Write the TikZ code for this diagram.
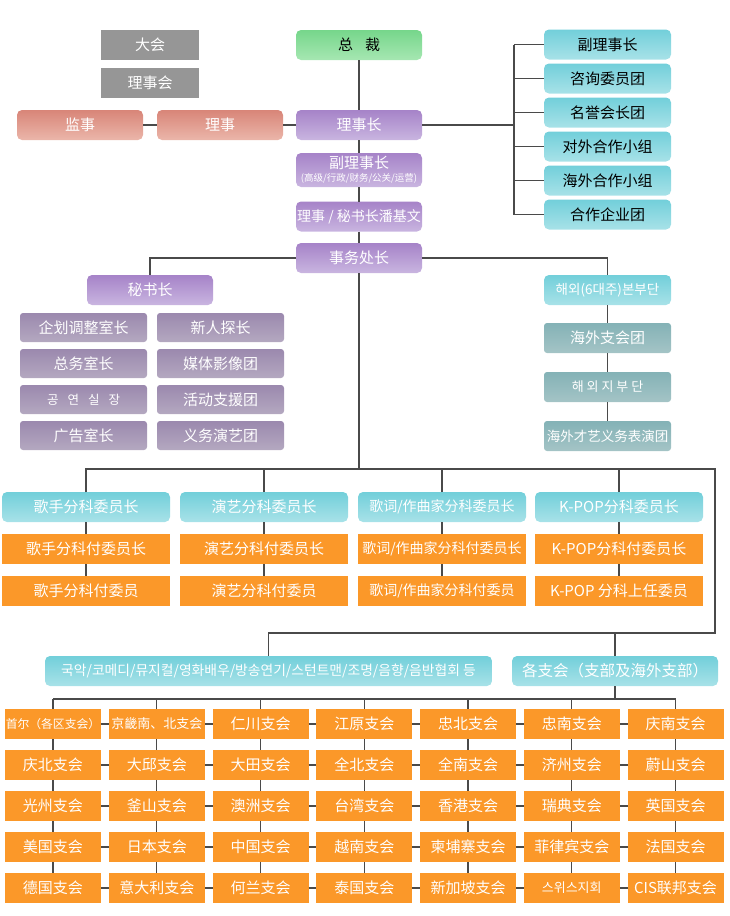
\documentclass[tikz,border=0pt]{standalone}
\usepackage{fontspec}
\setmainfont{Noto Sans CJK SC}
\definecolor{linegray}{RGB}{74,74,74}
\definecolor{boxgray}{RGB}{150,150,150}
\definecolor{greentop}{RGB}{118,214,139}
\definecolor{greenbot}{RGB}{166,231,178}
\definecolor{redtop}{RGB}{216,133,120}
\definecolor{redbot}{RGB}{235,182,170}
\definecolor{purtop}{RGB}{166,131,200}
\definecolor{purbot}{RGB}{201,181,224}
\definecolor{cyantop}{RGB}{114,207,218}
\definecolor{cyanbot}{RGB}{168,226,232}
\definecolor{lavtop}{RGB}{155,137,174}
\definecolor{lavbot}{RGB}{180,168,192}
\definecolor{tealtop}{RGB}{132,178,182}
\definecolor{tealbot}{RGB}{164,196,198}
\definecolor{orgfill}{RGB}{251,152,41}
\usetikzlibrary{calc}

\begin{document}
\begin{tikzpicture}[
  x=1pt, y=-1pt,
  box/.style={inner sep=0pt, outer sep=0pt, align=center, text=white, font=\fontsize{15}{17}\selectfont},
  graybox/.style={box, fill=boxgray, minimum width=98pt, minimum height=30pt},
  greenbox/.style={box, rounded corners=5pt, top color=greentop, bottom color=greenbot, text=black, minimum width=126pt, minimum height=30pt},
  redbox/.style={box, rounded corners=5pt, top color=redtop, bottom color=redbot, minimum width=126pt, minimum height=30pt},
  purbox/.style={box, rounded corners=5pt, top color=purtop, bottom color=purbot, minimum width=126pt, minimum height=30pt},
  cyanbox/.style={box, rounded corners=5pt, top color=cyantop, bottom color=cyanbot, minimum width=127pt, minimum height=30pt},
  lavbox/.style={box, rounded corners=3pt, top color=lavtop, bottom color=lavbot, minimum width=127pt, minimum height=29pt},
  tealbox/.style={box, rounded corners=3pt, top color=tealtop, bottom color=tealbot, minimum width=127pt, minimum height=30pt},
  orgbox/.style={box, fill=orgfill, minimum width=168pt, minimum height=30pt},
  cellbox/.style={box, fill=orgfill, minimum width=96pt, minimum height=30pt},
  link/.style={draw=linegray, line width=1.2pt}
]
  \useasboundingbox (0,0) rectangle (730,916);

  \node[graybox] (assembly) at (150,45) {大会};
  \node[graybox] (board) at (150,83) {理事会};
  \node[greenbox] (president) at (359,45) {总\hspace{12pt}裁};
  \node[redbox] (auditor) at (80,125) {监事};
  \node[redbox] (director) at (220,125) {理事};
  \node[purbox] (chair) at (359,125) {理事长};
  \node[purbox, minimum height=34pt, font=\fontsize{15}{15}\selectfont] (vchair) at (359,170)
    {副理事长\\[-2pt]{\fontsize{9.5}{10}\selectfont (高级/行政/财务/公关/运营)}};
  \node[purbox, font=\fontsize{14}{16}\selectfont] (secdir) at (359,216.5) {理事 / 秘书长潘基文};
  \node[purbox] (office) at (359,258) {事务处长};

  \node[cyanbox, text=black] (rc1) at (607.5,44.5) {副理事长};
  \node[cyanbox, text=black] (rc2) at (607.5,78.5) {咨询委员团};
  \node[cyanbox, text=black] (rc3) at (607.5,112.5) {名誉会长团};
  \node[cyanbox, text=black] (rc4) at (607.5,146.5) {对外合作小组};
  \node[cyanbox, text=black] (rc5) at (607.5,180.5) {海外合作小组};
  \node[cyanbox, text=black] (rc6) at (607.5,214.5) {合作企业团};
  \coordinate (brk) at (514,125);

  \node[purbox] (secgen) at (150,290) {秘书长};
  \node[lavbox] (l1) at (83.5,327.5) {企划调整室长};
  \node[lavbox] (l2) at (83.5,363.5) {总务室长};
  \node[lavbox, font=\fontsize{12.5}{14}\selectfont] (l3) at (83.5,399.5) {공\hspace{9pt}연\hspace{9pt}실\hspace{9pt}장};
  \node[lavbox] (l4) at (83.5,435.5) {广告室长};
  \node[lavbox] (r1) at (220.5,327.5) {新人探长};
  \node[lavbox] (r2) at (220.5,363.5) {媒体影像团};
  \node[lavbox] (r3) at (220.5,399.5) {活动支援团};
  \node[lavbox] (r4) at (220.5,435.5) {义务演艺团};

  \node[cyanbox, font=\fontsize{13.5}{15}\selectfont] (ov1) at (607.5,290) {해외(6대주)본부단};
  \node[tealbox] (ov2) at (607.5,338) {海外支会团};
  \node[tealbox, font=\fontsize{13}{15}\selectfont] (ov3) at (607.5,387) {해 외 지 부 단};
  \node[tealbox, font=\fontsize{13.5}{15}\selectfont] (ov4) at (607.5,436) {海外才艺义务表演团};

  \node[cyanbox, minimum width=168pt] (cm1) at (86,507) {歌手分科委员长};
  \node[cyanbox, minimum width=168pt] (cm2) at (264,507) {演艺分科委员长};
  \node[cyanbox, minimum width=168pt, font=\fontsize{14}{16}\selectfont] (cm3) at (442,507) {歌词/作曲家分科委员长};
  \node[cyanbox, minimum width=168pt] (cm4) at (619,507) {K-POP分科委员长};
  \node[orgbox] (cs1) at (86,549) {歌手分科付委员长};
  \node[orgbox] (cs2) at (264,549) {演艺分科付委员长};
  \node[orgbox, font=\fontsize{14}{16}\selectfont] (cs3) at (442,549) {歌词/作曲家分科付委员长};
  \node[orgbox] (cs4) at (619,549) {K-POP分科付委员长};
  \node[orgbox] (cv1) at (86,591) {歌手分科付委员};
  \node[orgbox] (cv2) at (264,591) {演艺分科付委员};
  \node[orgbox, font=\fontsize{14}{16}\selectfont] (cv3) at (442,591) {歌词/作曲家分科付委员};
  \node[orgbox] (cv4) at (619,591) {K-POP 分科上任委员};
  \coordinate (bus) at (715,469);
  \coordinate (bus2) at (715,633);

  \node[cyanbox, minimum width=447pt, font=\fontsize{13.8}{15}\selectfont] (misc) at (268.5,671)
    {국악/코메디/뮤지컬/영화배우/방송연기/스턴트맨/조명/음향/음반협회 등};
  \node[cyanbox, minimum width=206pt, font=\fontsize{15.5}{17}\selectfont] (branch) at (615,671) {各支会（支部及海外支部）};
  \coordinate (gbus) at (0,699);

  \foreach \t [count=\c] in {{\fontsize{11.8}{13}\selectfont 首尔（各区支会）}, {\fontsize{13}{14}\selectfont 京畿南、北支会}, 仁川支会, 江原支会, 忠北支会, 忠南支会, 庆南支会}
    \node[cellbox] (g1\c) at ({53+103.75*(\c-1)},724) {\t};
  \foreach \t [count=\c] in {庆北支会, 大邱支会, 大田支会, 全北支会, 全南支会, 济州支会, 蔚山支会}
    \node[cellbox] (g2\c) at ({53+103.75*(\c-1)},765) {\t};
  \foreach \t [count=\c] in {光州支会, 釜山支会, 澳洲支会, 台湾支会, 香港支会, 瑞典支会, 英国支会}
    \node[cellbox] (g3\c) at ({53+103.75*(\c-1)},806) {\t};
  \foreach \t [count=\c] in {美国支会, 日本支会, 中国支会, 越南支会, 柬埔寨支会, 菲律宾支会, 法国支会}
    \node[cellbox] (g4\c) at ({53+103.75*(\c-1)},847) {\t};
  \foreach \t [count=\c] in {德国支会, 意大利支会, 何兰支会, 泰国支会, 新加坡支会, {\fontsize{13}{14}\selectfont 스위스지회}, CIS联邦支会}
    \node[cellbox] (g5\c) at ({53+103.75*(\c-1)},888) {\t};

  \draw[link] (auditor) -- (director);
  \draw[link] (director) -- (chair);
  \draw[link] (president) -- (chair);
  \draw[link] (chair) -- (vchair);
  \draw[link] (vchair) -- (secdir);
  \draw[link] (secdir) -- (office);
  \draw[link] (chair.east) -- (brk);
  \draw[link] (brk |- rc1) -- (brk |- rc6);
  \foreach \i in {1,...,6}
    \draw[link] (brk |- rc\i) -- (rc\i.west);

  \draw[link] (office.west) -| (secgen.north);
  \draw[link] (office.east) -| (ov1.north);
  \draw[link] (ov1) -- (ov2);
  \draw[link] (ov2) -- (ov3);
  \draw[link] (ov3) -- (ov4);

  \draw[link] (office.south) -- (office.south |- bus);
  \draw[link] (cm1.north) |- (bus) -- (bus2) -| (misc.north);
  \foreach \i in {1,...,4} {
    \draw[link] (cm\i.north) -- (cm\i.north |- bus);
    \draw[link] (cm\i) -- (cs\i);
    \draw[link] (cs\i) -- (cv\i);
  }
  \draw[link] (branch.north) -- (branch.north |- bus2);

  \draw[link] (branch.south) -- (branch.south |- gbus);
  \draw[link] (g11.north |- gbus) -- (g17.north |- gbus);
  \foreach \c in {1,...,7}
    \draw[link] (g1\c.north |- gbus) -- (g1\c.north);
  \foreach \r/\n in {1/2, 2/3, 3/4, 4/5}
    \foreach \c in {1,...,7}
      \draw[link] (g\r\c) -- (g\n\c);
  \foreach \r in {1,...,5}
    \foreach \c/\d in {1/2, 2/3, 3/4, 4/5, 5/6, 6/7}
      \draw[link] (g\r\c) -- (g\r\d);
\end{tikzpicture}
\end{document}
